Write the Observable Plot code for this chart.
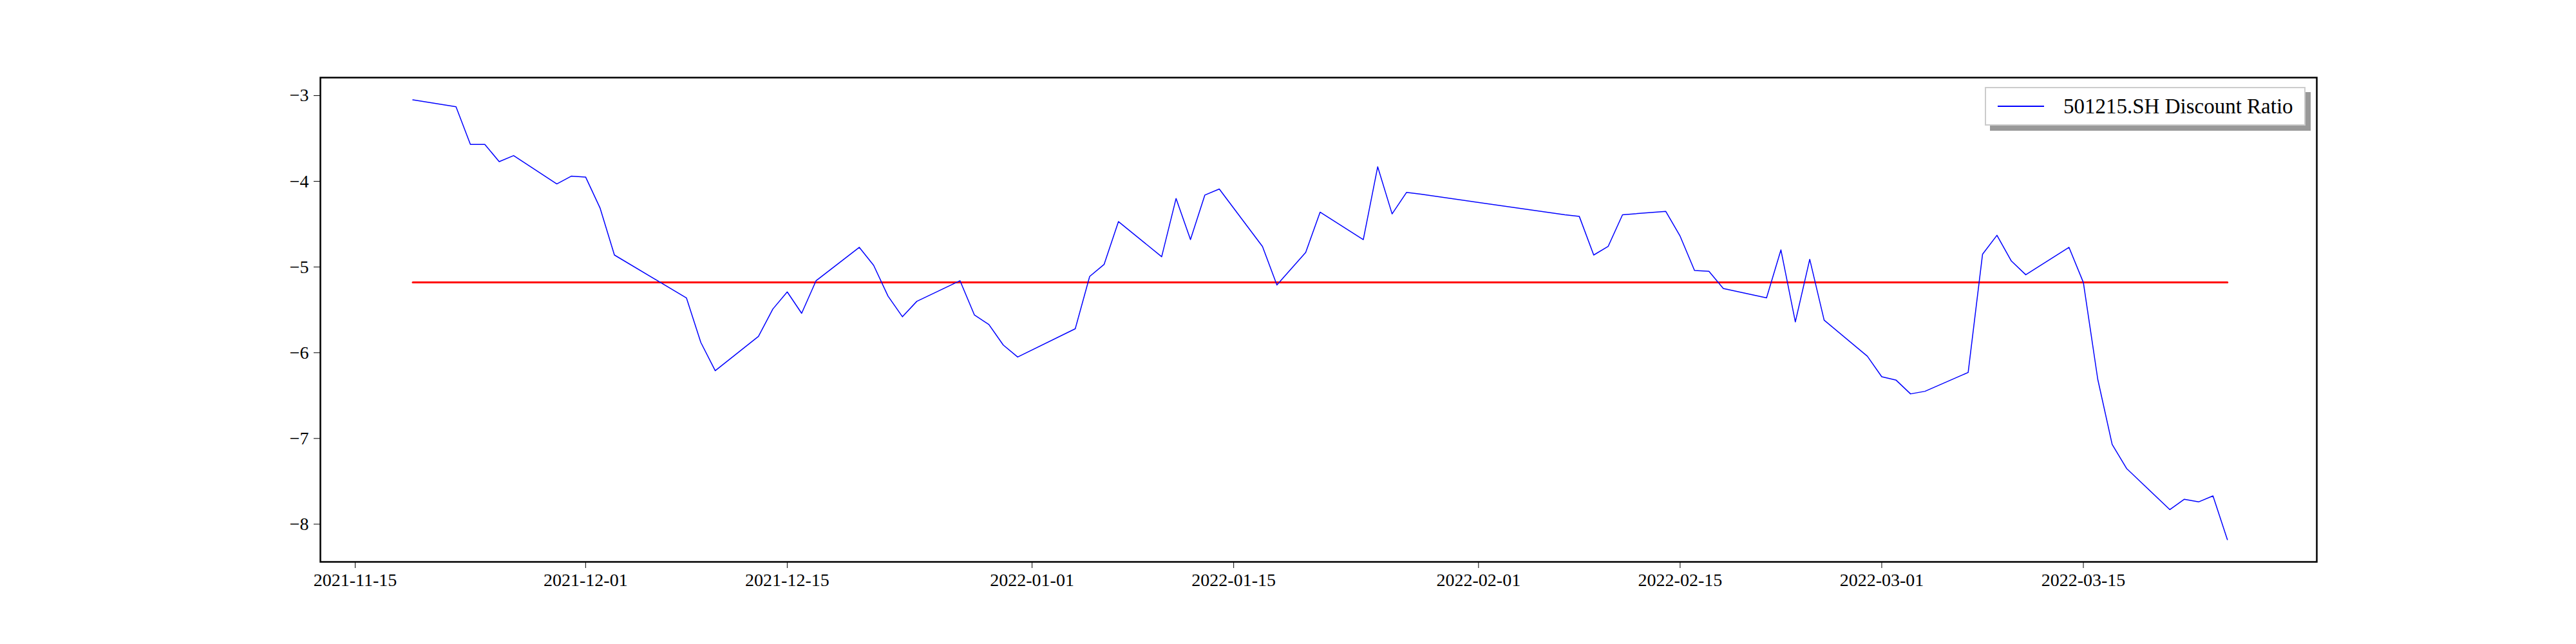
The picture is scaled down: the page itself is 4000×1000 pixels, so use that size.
<!DOCTYPE html>
<html>
<head>
<meta charset="utf-8">
<script src="https://cdn.jsdelivr.net/npm/d3@7"></script>
<script src="https://cdn.jsdelivr.net/npm/@observablehq/plot@0.6"></script>
<style>
  body { margin: 0; background: #fff; }
  #chart { position: relative; width: 4000px; height: 1000px; }
  .legend {
    position: absolute; left: 3082px; top: 135px; width: 498px; height: 60px;
    border: 2px solid #ccc; background: #fff; box-shadow: 8px 8px 0 #999;
    font-family: "Liberation Serif", serif; font-size: 33px; white-space: nowrap;
    display: flex; align-items: center; box-sizing: border-box;
  }
  .legend span.sw { display: inline-block; width: 72px; height: 0; border-top: 2px solid blue; margin: 0 30px 0 18px; }
</style>
</head>
<body>
<div id="chart"></div>
<script>
const dates = ["2021-11-19","2021-11-22","2021-11-23","2021-11-24","2021-11-25","2021-11-26","2021-11-29","2021-11-30",
  "2021-12-01","2021-12-02","2021-12-03","2021-12-08","2021-12-09","2021-12-10","2021-12-13","2021-12-14","2021-12-15",
  "2021-12-16","2021-12-17","2021-12-20","2021-12-21","2021-12-22","2021-12-23","2021-12-24","2021-12-27","2021-12-28",
  "2021-12-29","2021-12-30","2021-12-31","2022-01-04","2022-01-05","2022-01-06","2022-01-07","2022-01-10","2022-01-11",
  "2022-01-12","2022-01-13","2022-01-14","2022-01-17","2022-01-18","2022-01-20","2022-01-21","2022-01-24","2022-01-25",
  "2022-01-26","2022-01-27","2022-01-28","2022-02-07","2022-02-08","2022-02-09","2022-02-10","2022-02-11","2022-02-14",
  "2022-02-15","2022-02-16","2022-02-17","2022-02-18","2022-02-21","2022-02-22","2022-02-23","2022-02-24","2022-02-25",
  "2022-02-28","2022-03-01","2022-03-02","2022-03-03","2022-03-04","2022-03-07","2022-03-08","2022-03-09","2022-03-10",
  "2022-03-11","2022-03-14","2022-03-15","2022-03-16","2022-03-17","2022-03-18","2022-03-21","2022-03-22","2022-03-23",
  "2022-03-24","2022-03-25"];
const ratio = [-3.05,-3.13,-3.57,-3.57,-3.77,-3.70,-4.03,-3.94,
  -3.95,-4.31,-4.86,-5.36,-5.88,-6.21,-5.81,-5.49,-5.29,
  -5.54,-5.16,-4.77,-4.98,-5.34,-5.58,-5.40,-5.16,-5.56,
  -5.67,-5.91,-6.05,-5.72,-5.11,-4.97,-4.47,-4.88,-4.20,
  -4.68,-4.16,-4.09,-4.76,-5.21,-4.83,-4.36,-4.68,-3.83,
  -4.38,-4.13,-4.15,-4.39,-4.41,-4.86,-4.76,-4.39,-4.35,
  -4.64,-5.04,-5.05,-5.25,-5.36,-4.80,-5.64,-4.91,-5.62,
  -6.04,-6.28,-6.32,-6.48,-6.45,-6.23,-4.85,-4.63,-4.93,
  -5.09,-4.77,-5.18,-6.31,-7.07,-7.35,-7.83,-7.71,-7.74,
  -7.67,-8.18];
const meanRatio = -5.18;
const xTicks = ["2021-11-15","2021-12-01","2021-12-15","2022-01-01","2022-01-15","2022-02-01","2022-02-15","2022-03-01","2022-03-15"];
const yTicks = [-3,-4,-5,-6,-7,-8];

const parse = d3.utcParse("%Y-%m-%d");
const data = dates.map((d, i) => ({date: parse(d), v: ratio[i]}));
const meanLine = [{date: data[0].date, v: meanRatio}, {date: data[data.length - 1].date, v: meanRatio}];

const plot = Plot.plot({
  width: 4000,
  height: 1000,
  marginLeft: 497,
  marginRight: 403,
  marginTop: 120,
  marginBottom: 128,
  style: {fontFamily: "Liberation Serif, serif", fontSize: "28px", color: "black"},
  x: {
    type: "utc",
    domain: [new Date(Date.UTC(2021, 10, 12, 14)), new Date(Date.UTC(2022, 2, 31, 5))],
    ticks: xTicks.map(parse),
    tickFormat: d3.utcFormat("%Y-%m-%d"),
    tickSize: 10,
    tickPadding: 8,
    label: null
  },
  y: {
    domain: [-8.44, -2.79],
    ticks: yTicks,
    tickFormat: d => "\u2212" + Math.abs(d),
    tickSize: 10,
    tickPadding: 8,
    label: null
  },
  marks: [
    Plot.frame({stroke: "black", strokeWidth: 2.5}),
    Plot.lineY(meanLine, {x: "date", y: "v", stroke: "red", strokeWidth: 3}),
    Plot.lineY(data, {x: "date", y: "v", stroke: "blue", strokeWidth: 1.5})
  ]
});

const chart = document.getElementById("chart");
chart.append(plot);
const legend = document.createElement("div");
legend.className = "legend";
legend.innerHTML = '<span class="sw"></span>501215.SH Discount Ratio';
chart.append(legend);
</script>
</body>
</html>
